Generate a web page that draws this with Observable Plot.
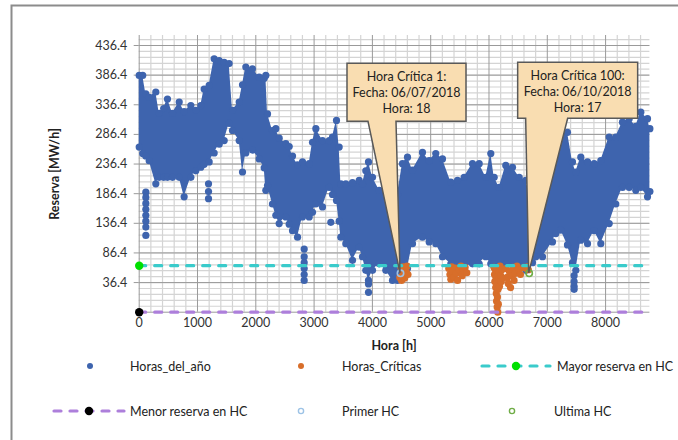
<!DOCTYPE html>
<html><head><meta charset="utf-8">
<script src="https://cdn.jsdelivr.net/npm/d3@7"></script>
<script src="https://cdn.jsdelivr.net/npm/@observablehq/plot@0.6"></script>
<style>body{margin:0;background:#fff} svg{display:block}</style>
</head><body><div id="chart"></div>
<script>
// ---- Data ----
// envelope of the dense cloud of "Horas_del_año" points (hour, upper, lower)
const envHours = [0,60,113,171,285,343,420,485,571,686,771,886,971,1057,1114,1200,1286,1372,1458,1543,1600,1715,1772,1829,1943,2058,2144,2172,2201,2286,2344,2401,2515,2573,2630,2716,2801,2916,2973,3030,3144,3259,3316,3384,3430,3459,3544,3659,3774,3830,3887,3933,4002,4117,4230,4345,4431,4516,4602,4688,4859,4974,5087,5202,5345,5460,5574,5717,5832,5945,6031,6089,6175,6288,6403,6518,6631,6746,6803,6918,7089,7146,7232,7346,7432,7489,7575,7690,7804,7918,8062,8175,8290,8405,8518,8604,8719,8760];
const envHigh = [386,386,355,349,358,322,330,346,322,341,325,335,327,335,363,369,414,411,408,406,327,341,370,400,397,383,381,386,321,293,296,280,271,266,250,235,240,237,273,296,276,276,282,310,265,203,203,205,209,203,225,240,214,192,187,181,185,237,248,226,256,242,254,245,206,209,214,237,237,214,254,214,197,234,231,214,209,169,190,214,259,265,288,290,240,223,248,240,237,242,282,282,307,313,300,324,313,296];
const envLow = [265,254,250,242,203,214,214,214,214,214,181,214,225,231,236,240,255,270,276,305,293,276,223,255,260,245,230,192,200,169,150,136,147,135,124,113,147,147,155,169,164,197,185,175,140,113,102,74,96,80,57,40,57,68,57,40,40,55,60,102,113,105,102,80,68,57,62,68,68,80,68,68,65,68,66,63,57,70,80,80,105,119,125,100,70,57,108,102,124,102,136,169,197,197,192,197,181,190];
// isolated blue points outside the main cloud
const outlierHours = [114,114,114,114,114,114,114,114,1189,1189,1189,2830,2830,2830,2830,2830,2830,3287,3933,3933,7460,7460,7460,7460];
const outlierValues = [189,180,170,160,150,140,130,116,203,190,178,93,80,70,60,50,40,138,34,20,48,38,30,25];
// critical hours (Horas_Críticas)
const critHours = [4470,4490,4500,4510,4520,4530,4540,4555,4565,4580,4595,4610,
  5310,5330,5345,5360,5380,5400,5420,5440,5460,5490,5520,5540,5560,5590,5620,
  6085,6095,6100,6110,6115,6120,6125,6130,6135,6140,6145,6150,6155,6160,6165,6170,6180,6190,6200,6210,6220,6235,
  6290,6310,6330,6350,6370,6390,6410,6430,6450,6480,6510,6540,6600,6640,6660,6675];
const critValues = [45,62,40,58,48,63,52,44,60,55,64,50,
  60,50,42,63,55,45,61,52,40,58,64,48,57,62,53,
  62,50,38,58,28,45,18,5,35,-5,12,-13.6,25,0,42,55,30,64,48,38,58,44,
  60,45,35,55,28,48,62,40,52,64,58,50,62,60,63,58];
const mayorReserva = 64.9;   // Mayor reserva en HC
const menorReserva = -13.6;  // Menor reserva en HC
const primerHour = 4482, primerValue = 52;
const ultimaHour = 6689, ultimaValue = 52;
const xTicks = [0,1000,2000,3000,4000,5000,6000,7000,8000];
const yTicks = [36.4,86.4,136.4,186.4,236.4,286.4,336.4,386.4,436.4];
const calloutHours = [primerHour, ultimaHour];
const calloutValues = [primerValue, ultimaValue];
const calloutTexts = [["Hora Crítica 1:","Fecha: 06/07/2018","Hora: 18"],["Hora Crítica 100:","Fecha: 06/10/2018","Hora: 17"]];
const legendLabels = ["Horas_del_año","Horas_Críticas","Mayor reserva en HC","Menor reserva en HC","Primer HC","Ultima HC"];

// ---- styles ----
const BLUE = "#3E64AE", ORANGE = "#D86E2A", CYAN = "#3ACBCB", PURPLE = "#AD7FDB", LIME = "#00E000";
const FONT = "Lato, 'Open Sans', sans-serif";

const env = envHours.map((h,i)=>({hour:h, hi:envHigh[i], lo:envLow[i]}));
const outliers = outlierHours.map((h,i)=>({hour:h, value:outlierValues[i]}));
const crit = critHours.map((h,i)=>({hour:h, value:critValues[i]}));

const minorY = d3.range(-3.6, 453, 10);
const minorX = d3.range(0, 8761, 200).filter(v => v % 1000 !== 0);

const chart = Plot.plot({
  width: 678, height: 440,
  marginLeft: 138.7, marginRight: 28.6, marginTop: 35, marginBottom: 128.3,
  style: {fontFamily: FONT, fontSize: "12.5px", color: "#333", background: "#fff"},
  x: {domain: [0, 8760], label: null},
  y: {domain: [-13.6, 453.3], label: null},
  marks: [
    Plot.ruleY(minorY, {stroke: "#d4d4d4", strokeWidth: 1.2}),
    Plot.ruleX(minorX, {stroke: "#d4d4d4", strokeWidth: 1.2}),
    Plot.ruleY(yTicks, {stroke: "#9a9a9a", strokeWidth: 1}),
    Plot.ruleX(xTicks, {stroke: "#9a9a9a", strokeWidth: 1}),
    Plot.ruleY([menorReserva], {stroke: "#9a9a9a"}),
    Plot.axisY(yTicks, {tickSize: 5, tickPadding: 7, tickFormat: d => d.toFixed(1), stroke: "#9a9a9a", fontSize: 12.5}),
    Plot.axisX(xTicks, {tickSize: 0, tickPadding: 6, tickFormat: d => String(d), fontSize: 12.5}),
    Plot.areaY(env, {x: "hour", y1: "lo", y2: "hi", fill: BLUE, curve: "linear"}),
    Plot.dot(env, {x: "hour", y: "hi", r: 3.6, fill: BLUE}),
    Plot.dot(env, {x: "hour", y: "lo", r: 3.6, fill: BLUE}),
    Plot.dot(outliers, {x: "hour", y: "value", r: 3.6, fill: BLUE}),
    Plot.dot(crit, {x: "hour", y: "value", r: 3.6, fill: ORANGE}),
    Plot.ruleY([mayorReserva], {stroke: CYAN, strokeWidth: 3.2, strokeDasharray: "7,9", strokeLinecap: "round"}),
    Plot.ruleY([menorReserva], {stroke: PURPLE, strokeWidth: 3.2, strokeDasharray: "7,9", strokeLinecap: "round"}),
    Plot.dot([{hour: 0, value: mayorReserva}], {x: "hour", y: "value", r: 4.2, fill: LIME}),
    Plot.dot([{hour: 0, value: menorReserva}], {x: "hour", y: "value", r: 4.2, fill: "#000"}),
    Plot.dot([{hour: primerHour, value: primerValue}], {x: "hour", y: "value", r: 3.2, fill: "none", stroke: "#9DC3E6", strokeWidth: 1.6}),
    Plot.dot([{hour: ultimaHour, value: ultimaValue}], {x: "hour", y: "value", r: 3.2, fill: "none", stroke: "#70AD47", strokeWidth: 1.6})
  ]
});

const svg = d3.select(chart);
const sx = chart.scale("x"), sy = chart.scale("y");

// callouts (pixel offsets relative to the pointed data point)
const calloutGeom = [
  {l: -53, r: 66, t: -209.5, b: -151.5, p1: -32, p2: -4},
  {l: -11, r: 109, t: -210.5, b: -154.5, p1: -3, p2: 39}
];
calloutHours.forEach((h, i) => {
  const px = sx.apply(h), py = sy.apply(calloutValues[i]);
  const g = calloutGeom[i];
  const L = px + g.l, R = px + g.r, T = py + g.t, B = py + g.b;
  svg.append("path")
    .attr("d", `M${L},${T}H${R}V${B}H${px + g.p2}L${px},${py}L${px + g.p1},${B}H${L}Z`)
    .attr("fill", "#F9DDB1").attr("stroke", "#595959").attr("stroke-width", 1.5).attr("stroke-linejoin", "miter");
  calloutTexts[i].forEach((s, k) => {
    svg.append("text").attr("x", (L + R) / 2).attr("y", T + 17.7 + 16 * k)
      .attr("text-anchor", "middle").attr("font-family", FONT).attr("font-size", 12.5).attr("fill", "#222").text(s);
  });
});

// axis titles
svg.append("text").attr("x", 394).attr("y", 349.5).attr("text-anchor", "middle")
  .attr("font-family", FONT).attr("font-weight", "bold").attr("font-size", 12.5).attr("fill", "#222").text("Hora [h]");
svg.append("text").attr("transform", "translate(59,174) rotate(-90)").attr("text-anchor", "middle")
  .attr("font-family", FONT).attr("font-weight", "bold").attr("font-size", 12.5).attr("fill", "#222").text("Reserva [MW/h]");

// legend
const lg = svg.append("g").attr("font-family", FONT).attr("font-size", 12.5).attr("fill", "#222").attr("text-anchor", "start");
function lineSample(x1, x2, y, color, dotColor) {
  lg.append("line").attr("x1", x1).attr("x2", x2).attr("y1", y).attr("y2", y)
    .attr("stroke", color).attr("stroke-width", 3.2).attr("stroke-dasharray", "7,9").attr("stroke-linecap", "round");
  lg.append("circle").attr("cx", (x1 + x2) / 2).attr("cy", y).attr("r", 4.2).attr("fill", dotColor);
}
const row1 = 366, row2 = 411;
lg.append("circle").attr("cx", 90).attr("cy", row1).attr("r", 3).attr("fill", BLUE);
lg.append("text").attr("x", 130).attr("y", row1 + 4.5).text(legendLabels[0]);
lg.append("circle").attr("cx", 301).attr("cy", row1).attr("r", 3).attr("fill", ORANGE);
lg.append("text").attr("x", 342).attr("y", row1 + 4.5).text(legendLabels[1]);
lineSample(482, 550, row1, CYAN, LIME);
lg.append("text").attr("x", 557).attr("y", row1 + 4.5).text(legendLabels[2]);
lineSample(54, 124, row2, PURPLE, "#000");
lg.append("text").attr("x", 130).attr("y", row2 + 4.5).text(legendLabels[3]);
lg.append("circle").attr("cx", 301).attr("cy", row2).attr("r", 2.6).attr("fill", "#fff").attr("stroke", "#9DC3E6").attr("stroke-width", 1.4);
lg.append("text").attr("x", 342).attr("y", row2 + 4.5).text(legendLabels[4]);
lg.append("circle").attr("cx", 512).attr("cy", row2).attr("r", 2.6).attr("fill", "#fff").attr("stroke", "#70AD47").attr("stroke-width", 1.4);
lg.append("text").attr("x", 554).attr("y", row2 + 4.5).text(legendLabels[5]);

// chart frame
svg.append("path").attr("d", "M11.5,440V5.5H678").attr("fill", "none").attr("stroke", "#8c8c8c").attr("stroke-width", 2);

document.getElementById("chart").appendChild(chart);
</script>
</body></html>
